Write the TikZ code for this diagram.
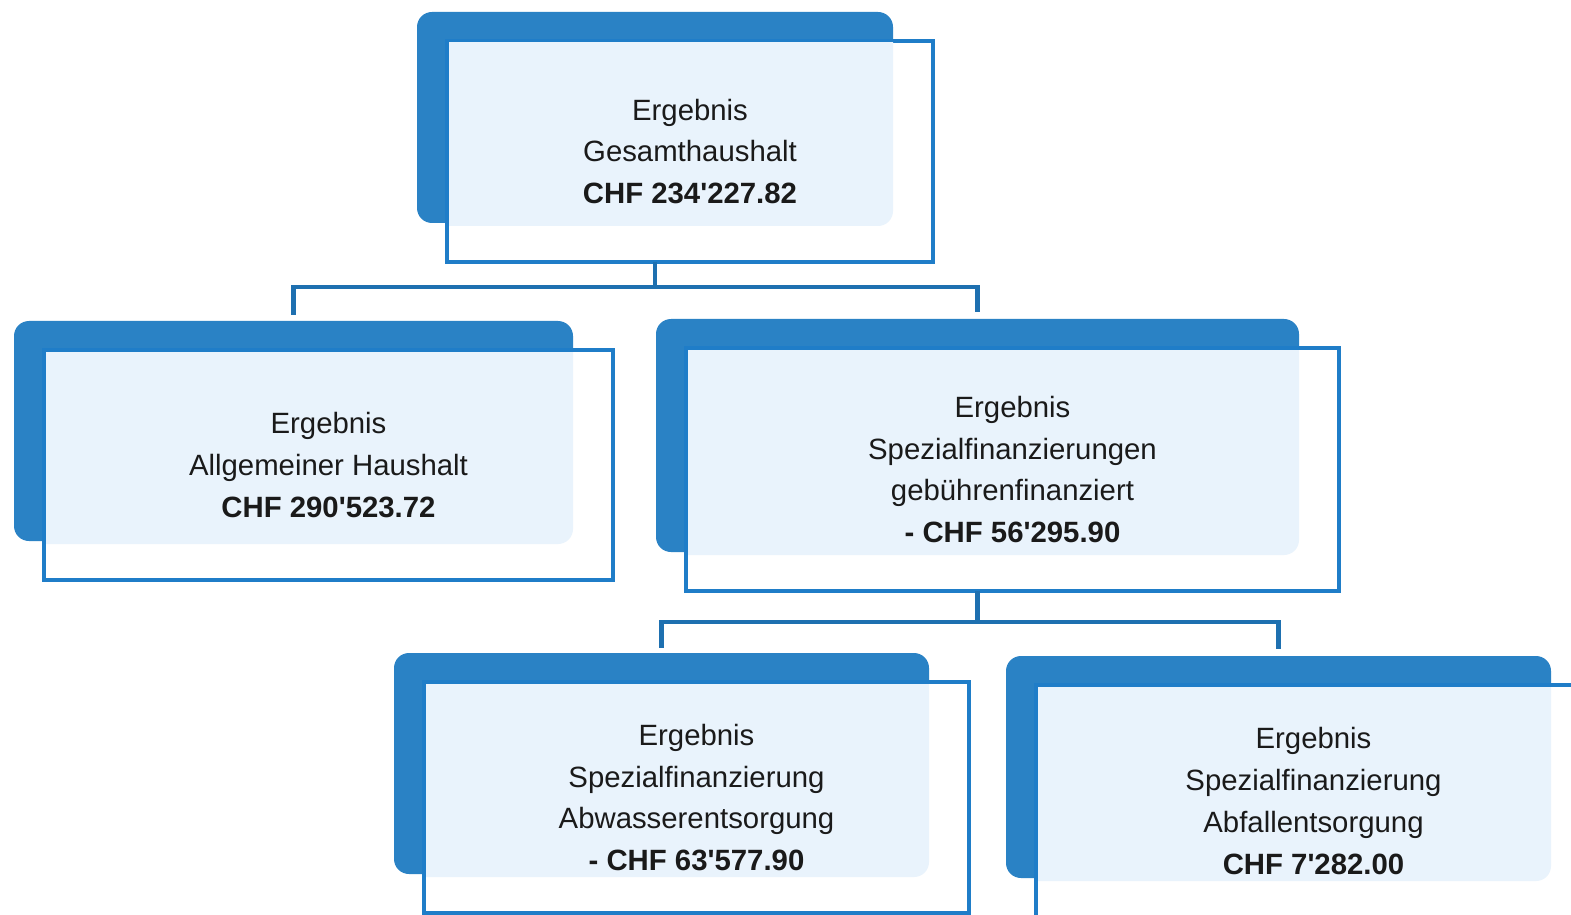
\documentclass[tikz,border=0pt]{standalone}
\usepackage{fontspec}
\setmainfont{Liberation Sans}
\usetikzlibrary{calc}
\definecolor{darkbl}{HTML}{2A82C5}
\definecolor{outbl}{HTML}{1F7DC8}
\definecolor{lightbl}{HTML}{E9F3FC}
\definecolor{connbl}{HTML}{1E70B0}
\definecolor{txt}{HTML}{1A1A1A}
\newcommand\ap{\textquotesingle}
\tikzset{
  backbox/.style={fill=darkbl, draw=none, rounded corners=0.3cm, inner sep=0pt, outer sep=0pt},
  outbox/.style={fill=white, draw=outbl, line width=2.3pt, inner sep=0pt, outer sep=0pt},
  lbl/.style={align=center, text=txt, inner sep=0pt, font=\fontsize{16.7}{23.8}\selectfont},
  conn/.style={draw=connbl, line width=2.3pt}
}
% #1 name, #2 x1, #3 y1, #4 x2, #5 y2 (outline rectangle in px), #6 text
\newcommand\orgbox[6]{%
  \node[backbox, minimum width={(#4-#2-10)*0.02cm}, minimum height={(#5-#3-10)*0.02cm}]
    (#1d) at ({(#2+#4-70)/2},{(#3+#5-68)/2}) {};
  \node[outbox, minimum width={(#4-#2)*0.02cm}, minimum height={(#5-#3)*0.02cm}]
    (#1o) at ({(#2+#4)/2},{(#3+#5)/2}) {};
  \begin{scope}
    \clip ({#2+2},{#3+2}) rectangle ({#4-40},{#5-36});
    \fill[lightbl, rounded corners=0.3cm] ({#2-20},{#3-20}) rectangle ({#4-40},{#5-36});
  \end{scope}
  \node[lbl] (#1) at ({(#2+#4)/2},{(#3+#5)/2}) {#6};
}
\begin{document}
\begin{tikzpicture}[x=0.02cm, y=-0.02cm]
\useasboundingbox[fill=white] (0,0) rectangle (1571,915);

\orgbox{tot}{447}{41}{933}{262}{Ergebnis\\Gesamthaushalt\\\textbf{CHF 234\ap227.82}}
\orgbox{ah}{44}{350}{613}{580}{Ergebnis\\Allgemeiner Haushalt\\\textbf{CHF 290\ap523.72}}
\orgbox{sf}{686}{348}{1339}{591}{Ergebnis\\Spezialfinanzierungen\\gebührenfinanziert\\\textbf{- CHF 56\ap295.90}}
\orgbox{aw}{424}{682}{969}{913}{Ergebnis\\Spezialfinanzierung\\Abwasserentsorgung\\\textbf{- CHF 63\ap577.90}}
\orgbox{af}{1036}{685}{1591}{917}{Ergebnis\\Spezialfinanzierung\\Abfallentsorgung\\\textbf{CHF 7\ap282.00}}

\draw[conn] (totd.south |- toto.south) -- ++(0,25) coordinate (j1);
\draw[conn, shorten >=0.12cm] (j1) -| (ahd.north);
\draw[conn, shorten >=0.14cm] (j1) -| (sfd.north);

\draw[conn] (sfd.south |- sfo.south) -- ++(0,31) coordinate (j2);
\draw[conn, shorten >=0.1cm] (j2) -| (awd.north);
\draw[conn, shorten >=0.14cm] (j2) -| (afd.north);
\end{tikzpicture}
\end{document}
